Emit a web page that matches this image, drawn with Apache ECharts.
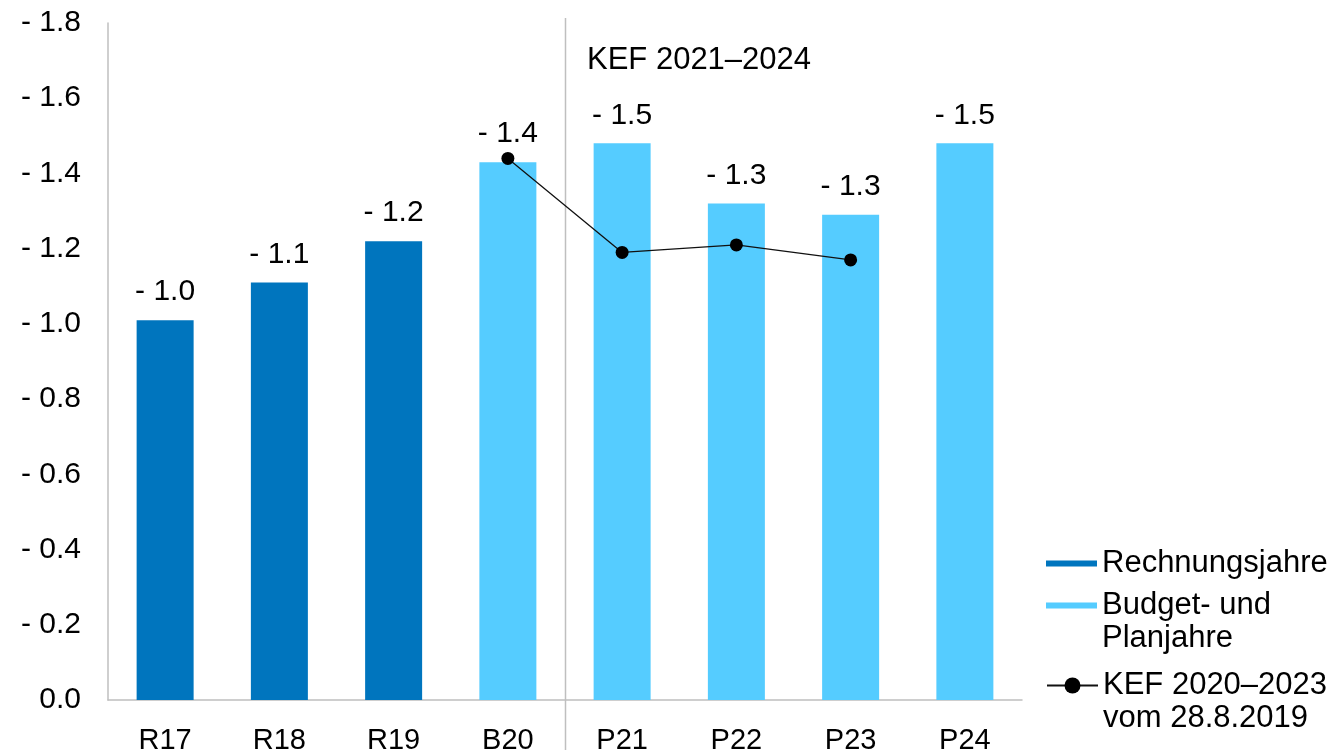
<!DOCTYPE html>
<html>
<head>
<meta charset="utf-8">
<script src="https://cdn.jsdelivr.net/npm/echarts@6/dist/echarts.min.js"></script>
<style>html,body{margin:0;padding:0;background:#fff}#c{width:1337px;height:755px}</style>
</head>
<body>
<div id="c"></div>
<script>
const categories = ['R17','R18','R19','B20','P21','P22','P23','P24'];
const rechnungsjahre = [1.01, 1.11, 1.22, null, null, null, null, null];
const budgetPlanjahre = [null, null, null, 1.43, 1.48, 1.32, 1.29, 1.48];
const kef2020 = [null, null, null, 1.44, 1.19, 1.21, 1.17, null];
const yMin = 0, yMax = 1.8, yInterval = 0.2;
const names = ['Rechnungsjahre', 'Budget- und Planjahre', 'KEF 2020–2023 vom 28.8.2019'];
const legendText = {
  'Rechnungsjahre': 'Rechnungsjahre',
  'Budget- und Planjahre': ' \nBudget- und\nPlanjahre',
  'KEF 2020–2023 vom 28.8.2019': ' \nKEF 2020–2023\nvom 28.8.2019'
};
const annotation = 'KEF 2021–2024';
const dividerBetween = ['B20', 'P21'];

const FONT = '"Liberation Sans", Arial, sans-serif';
const fmt = v => (v === 0 ? '0.0' : '- ' + Math.abs(v).toFixed(1));
const chart = echarts.init(document.getElementById('c'), null, {renderer: 'canvas'});
const barLabel = {
  show: true, position: 'top', distance: 13,
  fontFamily: FONT, fontSize: 30, color: '#000',
  formatter: p => fmt(p.value)
};
const legendBase = {
  orient: 'vertical', left: 1041, selectedMode: false,
  textStyle: {fontFamily: FONT, fontSize: 31, color: '#000', lineHeight: 33},
  formatter: n => legendText[n]
};
chart.setOption({
  animation: false,
  grid: {left: 108, right: 315, top: 23, bottom: 53, containLabel: false},
  xAxis: {
    type: 'category', data: categories, boundaryGap: true,
    axisLine: {show: true, lineStyle: {color: '#BFBFBF', width: 1.5}},
    axisTick: {show: false},
    splitLine: {show: false},
    axisLabel: {fontFamily: FONT, fontSize: 29, color: '#000', margin: 26, interval: 0}
  },
  yAxis: {
    type: 'value', min: yMin, max: yMax, interval: yInterval,
    axisLine: {show: true, lineStyle: {color: '#BFBFBF', width: 1.5}},
    axisTick: {show: false},
    splitLine: {show: false},
    axisLabel: {fontFamily: FONT, fontSize: 30, color: '#000', margin: 27, formatter: fmt}
  },
  legend: [
    Object.assign({}, legendBase, {top: 542, data: [{name: names[0], icon: 'rect'}], itemWidth: 51, itemHeight: 6}),
    Object.assign({}, legendBase, {top: 551, data: [{name: names[1], icon: 'rect'}], itemWidth: 51, itemHeight: 6}),
    Object.assign({}, legendBase, {top: 631, data: [{name: names[2]}], itemWidth: 51, itemHeight: 20})
  ],
  series: [
    {name: names[0], type: 'bar', data: rechnungsjahre, barWidth: 57, barGap: '-100%',
     itemStyle: {color: '#0075BE'}, label: barLabel},
    {name: names[1], type: 'bar', data: budgetPlanjahre, barWidth: 57, barGap: '-100%',
     itemStyle: {color: '#55CCFF'}, label: barLabel},
    {name: names[2], type: 'line', data: kef2020, symbol: 'circle', symbolSize: 13,
     connectNulls: false, itemStyle: {color: '#000'}, lineStyle: {color: '#111', width: 1.3},
     z: 5}
  ]
});
// divider line at the boundary between the two category groups
const xa = chart.convertToPixel({xAxisIndex: 0}, dividerBetween[0]);
const xb = chart.convertToPixel({xAxisIndex: 0}, dividerBetween[1]);
const xd = Math.round((xa + xb) / 2) + 0.5;
chart.setOption({
  graphic: [{
    type: 'text', left: 587, top: 45,
    style: {text: annotation, fontFamily: FONT, fontSize: 31, fill: '#000'}
  }, {
    type: 'line', shape: {x1: xd, y1: 18, x2: xd, y2: 750},
    style: {stroke: '#BFBFBF', lineWidth: 1.5}, z: 1
  }]
});
</script>
</body>
</html>
